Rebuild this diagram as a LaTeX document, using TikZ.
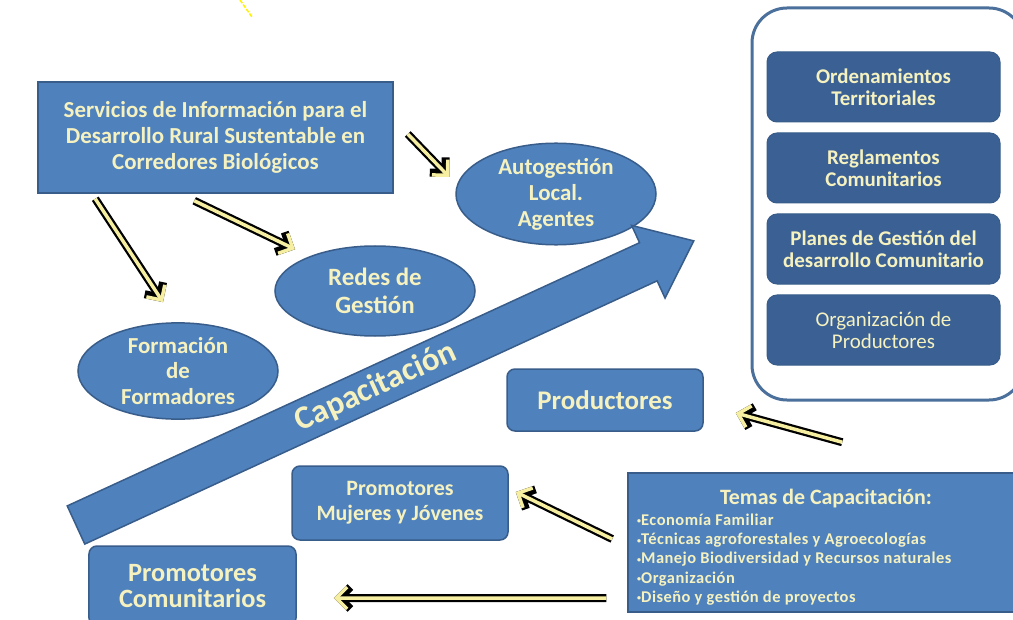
\documentclass[tikz,border=0pt]{standalone}
\usepackage{fontspec}
\setmainfont{Carlito}
\usetikzlibrary{positioning, shapes.geometric, arrows.meta}

\definecolor{boxblue}{RGB}{79,129,189}
\definecolor{boxedge}{RGB}{56,93,138}
\definecolor{deepblue}{RGB}{58,96,148}
\definecolor{panelline}{RGB}{76,112,156}
\definecolor{paletext}{RGB}{246,242,192}
\definecolor{arrowyel}{RGB}{246,238,160}

\newcommand{\tbul}{\raisebox{1.5bp}{\fontsize{8}{8}\selectfont•}}

\tikzset{
  bluebox/.style={rectangle, draw=boxedge, line width=1.5bp, fill=boxblue, text=paletext, align=center, inner sep=0pt},
  roundbox/.style={bluebox, rounded corners=8bp},
  oval/.style={ellipse, draw=boxedge, line width=1.5bp, fill=boxblue, text=paletext, align=center, inner sep=0pt, minimum width=200bp, minimum height=92bp},
  panelbox/.style={rectangle, rounded corners=10bp, draw=boxedge, line width=1bp, fill=deepblue, text=paletext, align=center, minimum width=233bp, minimum height=70bp, inner sep=0pt},
  yarrow/.style={draw=arrowyel, line width=3.5bp, -{Straight Barb[length=11bp,width=22bp]}, preaction={draw=black, line width=8bp, -{Straight Barb[length=11bp,width=22bp]}}}
}

\begin{document}
\begin{tikzpicture}[x=1bp, y=-1bp]
\clip (0,0) rectangle (1013,620);
\fill[white] (0,0) rectangle (1013,620);
\draw[yellow, line width=1.5bp, dash pattern=on 4bp off 1.5bp] (240,0) -- (252,17);

% main box
\node[bluebox, minimum width=355bp, minimum height=111bp, font=\fontsize{23}{26}\selectfont\bfseries] (srv) at (215.5,137.5) {Servicios de Información para el\\Desarrollo Rural Sustentable en\\Corredores Biológicos};

% ovals
\node[oval, font=\fontsize{23}{26}\selectfont\bfseries] (auto) at (556,194) {Autogestión\\Local.\\Agentes};
\node[oval, minimum height=90bp, font=\fontsize{25}{28}\selectfont\bfseries] (redes) at (375,291) {Redes de\\Gestión};
\node[oval, font=\fontsize{23}{26}\selectfont\bfseries] (form) at (178,371) {Formación\\de\\Formadores};

% right panel
\node[rectangle, rounded corners=35bp, draw=panelline, line width=3bp, fill=white, minimum width=272bp, minimum height=392bp] (panel) at (888,204) {};
\node[panelbox, font=\fontsize{21}{22}\selectfont\bfseries] (orden) at (883.5,87) {Ordenamientos\\Territoriales};
\node[panelbox, font=\fontsize{21}{22}\selectfont\bfseries] (regla) at (883.5,168) {Reglamentos\\Comunitarios};
\node[panelbox, font=\fontsize{21}{22}\selectfont\bfseries] (planes) at (883.5,249) {Planes de Gestión del\\desarrollo Comunitario};
\node[panelbox, font=\fontsize{21}{22}\selectfont] (orgprod) at (883.5,330) {Organización de\\Productores};

% lower boxes
\node[roundbox, minimum width=196bp, minimum height=62bp, font=\fontsize{27}{28}\selectfont\bfseries] (prod) at (605,400) {Productores};
\node[roundbox, minimum width=216bp, minimum height=74bp, font=\fontsize{22}{25}\selectfont\bfseries] (muj) at (400,503) {Promotores\\Mujeres y Jóvenes};
\node[roundbox, minimum width=207bp, minimum height=80bp, font=\fontsize{26.5}{27}\selectfont\bfseries] (comun) at (192.5,586) {Promotores\\Comunitarios};

% topics
\node[bluebox, minimum width=402bp, minimum height=139bp] (temas) at (829,542.5) {};
\node[text=paletext, font=\fontsize{22}{24}\selectfont\bfseries] (temastit) at (826,499) {Temas de Capacitación:};
\node[text=paletext, anchor=west, align=left, inner sep=0pt, font=\fontsize{16.5}{19.3}\selectfont\bfseries\addfontfeatures{LetterSpace=3}] (temaslist) at (637,559.5) {\tbul Economía Familiar\\\tbul Técnicas agroforestales y Agroecologías\\\tbul Manejo Biodiversidad y Recursos naturales\\\tbul Organización\\\tbul Diseño y gestión de proyectos};

% big arrow
\begin{scope}[shift={(76,525)}, rotate=24.7]
\draw[fill=boxblue, draw=boxedge, line width=1.5bp] (0,-21) -- (630,-21) -- (630,-40) -- (680,0) -- (630,40) -- (630,21) -- (0,21) -- cycle;
\node[rotate=24.7, text=paletext, font=\fontsize{33}{36}\selectfont\bfseries] (cap) at (330,0) {Capacitación};
\end{scope}

% yellow arrows
\draw[yarrow] ([xshift=58bp,yshift=-5bp]srv.south west) -- ([xshift=-15bp,yshift=20bp]form.north);
\draw[yarrow] ([xshift=157bp,yshift=-7bp]srv.south west) -- ([xshift=-80bp,yshift=-4bp]redes.north);
\draw[yarrow] ([xshift=14bp,yshift=3.5bp]srv.east) -- ([xshift=-6bp,yshift=17bp]auto.west);
\draw[yarrow] ([xshift=215bp,yshift=30bp]temas.north west) -- ([xshift=32bp,yshift=-13bp]prod.east);
\draw[yarrow] ([xshift=-15bp,yshift=3.5bp]temas.west) -- ([xshift=7bp,yshift=11bp]muj.east);
\draw[yarrow] ([xshift=-21bp,yshift=-55.5bp]temas.west) -- ([xshift=37bp,yshift=-12bp]comun.east);
\end{tikzpicture}
\end{document}
